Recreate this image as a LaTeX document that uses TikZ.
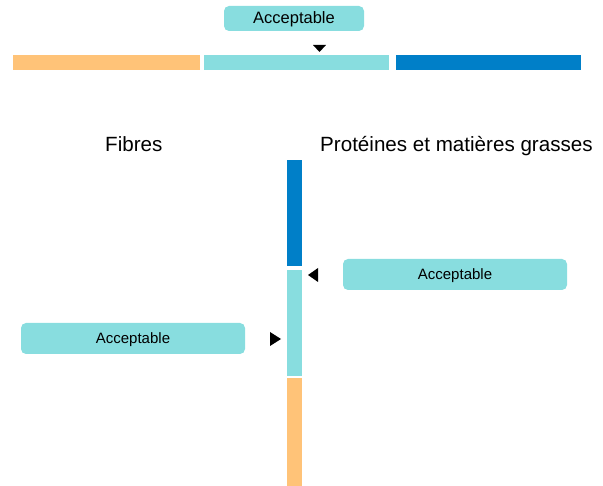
\documentclass[tikz,border=0pt]{standalone}
\usepackage{fontspec}
\setmainfont{Liberation Sans}
\definecolor{lowc}{RGB}{255,195,120}
\definecolor{midc}{RGB}{136,221,223}
\definecolor{highc}{RGB}{0,127,200}
\begin{document}
\begin{tikzpicture}[x=1pt,y=-1pt,
  seg/.style={fill=#1,draw=none,inner sep=0pt,anchor=north west},
  tag/.style={fill=midc,rounded corners=5pt,inner sep=0pt,text depth=1pt},
  head/.style={anchor=base west,inner sep=0pt,font=\fontsize{20.6}{24}\selectfont}]
  \useasboundingbox (0,0) rectangle (603,486);
  % 横条
  \node[seg=lowc,minimum width=187pt,minimum height=15pt] (hlow) at (13,55) {};
  \node[seg=midc,minimum width=185pt,minimum height=15pt] (hmid) at (204,55) {};
  \node[seg=highc,minimum width=185pt,minimum height=15pt] (hhigh) at (396,55) {};
  % 上方标签与指针
  \node[tag,minimum width=140pt,minimum height=25pt,font=\fontsize{16.5}{20}\selectfont] (tagtop) at (294,18.5) {Acceptable};
  \fill (313,45) -- (326,45) -- (319.5,52) -- cycle;
  % 标题
  \node[head] (fib) at (105,152) {Fibres};
  \node[head] (prot) at (320,152) {Protéines et matières grasses};
  % 竖条
  \node[seg=highc,minimum width=15pt,minimum height=106pt] (vhigh) at (287,160) {};
  \node[seg=midc,minimum width=15pt,minimum height=106pt] (vmid) at (287,270) {};
  \node[seg=lowc,minimum width=15pt,minimum height=108pt] (vlow) at (287,378) {};
  % 两侧标签与指针
  \node[tag,minimum width=224pt,minimum height=31pt,font=\fontsize{15}{18}\selectfont] (tagright) at (455,274.5) {Acceptable};
  \fill (308,275) -- (318,268) -- (318,282) -- cycle;
  \node[tag,minimum width=224pt,minimum height=31pt,font=\fontsize{15}{18}\selectfont] (tagleft) at (133,338.5) {Acceptable};
  \fill (281,339) -- (270,332) -- (270,346) -- cycle;
\end{tikzpicture}
\end{document}
